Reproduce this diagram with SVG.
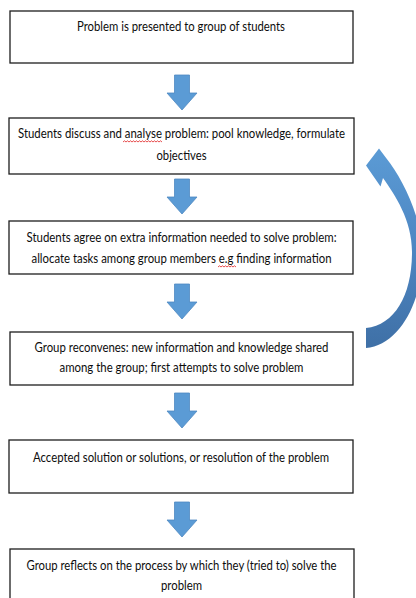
<svg xmlns="http://www.w3.org/2000/svg" width="416" height="598" viewBox="0 0 416 598">
  <defs>
    <style>
      .box { fill: #ffffff; stroke: #1e1e1e; stroke-width: 1.3; }
      .label { font-family: "Lato", "Open Sans", "Liberation Sans", sans-serif; font-size: 13px; fill: #0d0d0d; text-anchor: middle; }
      .down { fill: #5b9bd5; stroke: #4f89c2; stroke-width: 0.8; }
      .squiggle { fill: none; stroke: #e02020; stroke-width: 0.8; }
    </style>
    <linearGradient id="loopFill" x1="0" y1="0" x2="0" y2="1">
      <stop offset="0" stop-color="#5b9bd5"/>
      <stop offset="0.5" stop-color="#4d86c2"/>
      <stop offset="1" stop-color="#3f70a6"/>
    </linearGradient>
    <!-- block arrow pointing down, origin at the top centre of the shaft -->
    <path id="downArrow" d="M-7.5,0 H7.5 V18 H15 L0,35 L-15,18 H-7.5 Z"/>
  </defs>

  <rect width="416" height="598" fill="#ffffff"/>

  <g id="connectors">
    <use href="#downArrow" class="down" transform="translate(182,75)"/>
    <use href="#downArrow" class="down" transform="translate(182,179)"/>
    <use href="#downArrow" class="down" transform="translate(182,284)"/>
    <use href="#downArrow" class="down" transform="translate(182,393)"/>
    <use href="#downArrow" class="down" transform="translate(182,502)"/>
    <!-- curved loop-back arrow from step 4 to step 2 -->
    <path id="loop" fill="url(#loopFill)" d="M366,165.5 L379,148.5 L386.5,158.5 C402,178 421,215 422,250 C424,300 400,345 366,348 L366,328 C395,325 412,295 412,252 C412,220 395,195 383,178 L380.5,186.5 Z"/>
  </g>

  <g id="step1">
    <rect class="box" x="10" y="11" width="343" height="52"/>
    <text class="label" x="181" y="30.5" textLength="208" lengthAdjust="spacingAndGlyphs">Problem is presented to group of students</text>
  </g>

  <g id="step2">
    <rect class="box" x="9" y="118" width="345" height="56"/>
    <text class="label" x="181.5" y="138" textLength="327" lengthAdjust="spacingAndGlyphs">Students discuss and analyse problem: pool knowledge, formulate</text>
    <text class="label" x="181.5" y="159.5" textLength="50" lengthAdjust="spacingAndGlyphs">objectives</text>
    <path class="squiggle" d="M123,142 l1.5,-1.2 l1.5,1.2 l1.5,-1.2 l1.5,1.2 l1.5,-1.2 l1.5,1.2 l1.5,-1.2 l1.5,1.2 l1.5,-1.2 l1.5,1.2 l1.5,-1.2 l1.5,1.2 l1.5,-1.2 l1.5,1.2 l1.5,-1.2 l1.5,1.2 l1.5,-1.2 l1.5,1.2 l1.5,-1.2 l1.5,1.2 l1.5,-1.2 l1.5,1.2 l1.5,-1.2 l1.5,1.2 l1.5,-1.2 l1.5,1.2"/>
  </g>

  <g id="step3">
    <rect class="box" x="9" y="221" width="344" height="53"/>
    <text class="label" x="181.5" y="241.5" textLength="310" lengthAdjust="spacingAndGlyphs">Students agree on extra information needed to solve problem:</text>
    <text class="label" x="181.5" y="263" textLength="300" lengthAdjust="spacingAndGlyphs">allocate tasks among group members e.g finding information</text>
    <path class="squiggle" d="M218,267 l1.5,-1.2 l1.5,1.2 l1.5,-1.2 l1.5,1.2 l1.5,-1.2 l1.5,1.2 l1.5,-1.2 l1.5,1.2 l1.5,-1.2 l1.5,1.2 l1.5,-1.2 l1.5,1.2"/>
  </g>

  <g id="step4">
    <rect class="box" x="10" y="332" width="343" height="53"/>
    <text class="label" x="181.5" y="351.5" textLength="294" lengthAdjust="spacingAndGlyphs">Group reconvenes: new information and knowledge shared</text>
    <text class="label" x="181.5" y="371.5" textLength="244" lengthAdjust="spacingAndGlyphs">among the group; first attempts to solve problem</text>
  </g>

  <g id="step5">
    <rect class="box" x="9" y="440" width="344" height="53"/>
    <text class="label" x="181" y="461.5" textLength="296" lengthAdjust="spacingAndGlyphs">Accepted solution or solutions, or resolution of the problem</text>
  </g>

  <g id="step6">
    <rect class="box" x="10" y="549" width="344" height="60"/>
    <text class="label" x="181.5" y="569.5" textLength="310" lengthAdjust="spacingAndGlyphs">Group reflects on the process by which they (tried to) solve the</text>
    <text class="label" x="181.5" y="590" textLength="41" lengthAdjust="spacingAndGlyphs">problem</text>
  </g>
</svg>
